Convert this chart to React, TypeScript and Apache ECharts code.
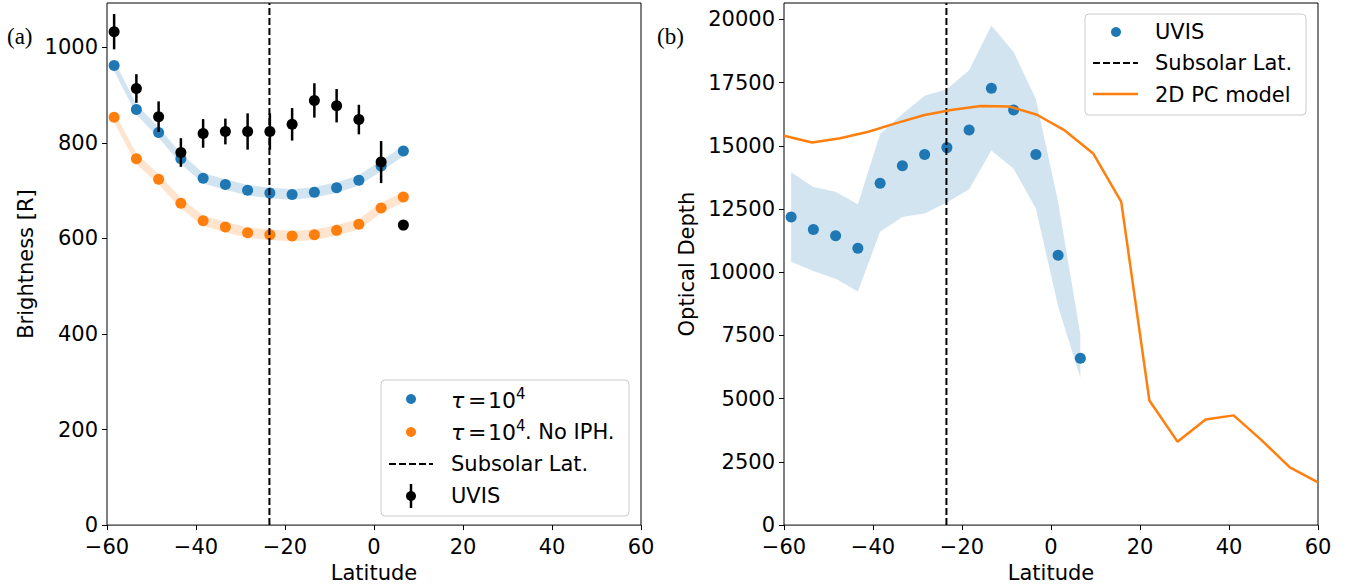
import React, { useEffect, useRef } from "react";
import * as echarts from "echarts";

// latitudes of the UVIS bins (deg)
const latitude = [-58.4, -53.4, -48.4, -43.4, -38.4, -33.4, -28.4, -23.4, -18.4, -13.4, -8.4, -3.4, 1.6, 6.6];

// panel (a): brightness [R]
const tauModel = [962, 870, 822, 767, 726, 713, 701, 695, 692, 697, 706, 722, 752, 783];
const tauNoIph = [854, 767, 724, 674, 637, 624, 612, 608, 605, 608, 617, 630, 664, 687];
const modelSpread = [11, 11, 11, 11, 11, 11, 11, 11, 11, 11, 11, 11, 11, 11];
const uvisBrightness = [1033, 914, 855, 780, 820, 824, 824, 824, 839, 889, 878, 849, 760, 628];
const uvisError = [37, 30, 32, 30, 30, 27, 38, 38, 34, 36, 35, 31, 44, 10];

// panel (b): optical depth
const uvisDepth = [12190, 11690, 11440, 10950, 13520, 14210, 14660, 14930, 15630, 17280, 16420, 14660, 10670, 6600];
const uvisDepthLow = [10420, 10050, 9740, 9240, 11600, 12190, 12320, 12760, 13280, 14820, 14090, 12520, 8650, 5830];
const uvisDepthHigh = [13960, 13370, 13180, 12690, 15470, 16260, 16980, 17240, 17990, 19760, 18710, 16850, 12780, 7530];

const modelLat = [-60, -53.68, -47.37, -41.05, -34.74, -28.42, -22.11, -15.79, -9.47, -3.16, 3.16, 9.47, 15.79, 22.11, 28.42, 34.74, 41.05, 47.37, 53.68, 60];
const modelDepth = [15400, 15130, 15300, 15560, 15900, 16220, 16430, 16580, 16560, 16230, 15600, 14700, 12780, 4930, 3300, 4180, 4340, 3350, 2280, 1690];

const subsolarLat = -23.5;

const brightTicks = [0, 200, 400, 600, 800, 1000];
const depthTicks = [0, 2500, 5000, 7500, 10000, 12500, 15000, 17500, 20000];

const BLUE = "#1f77b4";
const ORANGE = "#ff7f0e";
const FONT = '"DejaVu Sans", sans-serif';
const SERIF = '"Liberation Serif", "DejaVu Serif", serif';

const fmt = (v: number) => (v < 0 ? "\u2212" + Math.abs(v) : String(v));

// filled band between low and high, drawn once as a polygon
const band = (lo: number[], hi: number[], fill: string, xAxisIndex: number, yAxisIndex: number) => ({
	type: "custom",
	xAxisIndex,
	yAxisIndex,
	silent: true,
	z: 1,
	data: latitude.map((x, i) => [x, lo[i], hi[i]]),
	encode: { x: 0, y: [1, 2] },
	renderItem: (params: any, api: any) => {
		if (params.dataIndex !== 0) return null;
		const pts: number[][] = [];
		for (let i = 0; i < latitude.length; i++) pts.push(api.coord([latitude[i], hi[i]]));
		for (let i = latitude.length - 1; i >= 0; i--) pts.push(api.coord([latitude[i], lo[i]]));
		return { type: "polygon", shape: { points: pts }, style: { fill } };
	},
});

const axisCommon = {
	axisLine: { show: false, onZero: false },
	splitLine: { show: false },
	axisTick: { show: true, length: 5, lineStyle: { color: "#000", width: 1 } },
	axisLabel: { color: "#000", fontSize: 21, fontFamily: FONT, formatter: fmt },
	nameTextStyle: { color: "#000", fontSize: 21, fontFamily: FONT },
	nameLocation: "middle",
};

const xLabel = { ...axisCommon.axisLabel, lineHeight: 19, margin: 12 };

const legendText = (x: number, y: number, text: string, extra: any = {}) => ({
	type: "text",
	x,
	y,
	z: 101,
	style: { text, fill: "#000", font: `21px ${FONT}`, verticalAlign: "middle", align: "left", ...extra },
});

// "τ = 10^4" written in pieces, as matplotlib's mathtext does
const tauLabel = (y: number) => [
	legendText(451, y, "\u03c4", { font: `italic 22px ${FONT}` }),
	legendText(468, y, "=", { font: `22px ${FONT}` }),
	legendText(488, y, "10", { font: `22px ${FONT}` }),
	legendText(516, y - 6, "4", { font: `15px ${FONT}` }),
];

const App: React.FC = () => {
	const chartRef = useRef<HTMLDivElement>(null);

	useEffect(() => {
		if (!chartRef.current) return;
		const chart = echarts.init(chartRef.current, null, { renderer: "svg" });

		const option: any = {
			animation: false,
			backgroundColor: "#fff",
			grid: [
				{ left: 107, top: 3, width: 534, height: 524, show: true, borderColor: "#000", borderWidth: 1, backgroundColor: "transparent" },
				{ left: 784, top: 3, width: 534, height: 524, show: true, borderColor: "#000", borderWidth: 1, backgroundColor: "transparent" },
			],
			xAxis: [
				{ ...axisCommon, type: "value", gridIndex: 0, min: -60, max: 60, interval: 20, name: "Latitude", nameGap: 34, axisLabel: xLabel },
				{ ...axisCommon, type: "value", gridIndex: 1, min: -60, max: 60, interval: 20, name: "Latitude", nameGap: 34, axisLabel: xLabel },
			],
			yAxis: [
				{
					...axisCommon,
					type: "value",
					gridIndex: 0,
					min: 0,
					max: 1093,
					name: "Brightness [R]",
					nameGap: 71,
					axisTick: { ...axisCommon.axisTick, customValues: brightTicks },
					axisLabel: { ...axisCommon.axisLabel, customValues: brightTicks, margin: 9 },
				},
				{
					...axisCommon,
					type: "value",
					gridIndex: 1,
					min: 0,
					max: 20650,
					name: "Optical Depth",
					nameGap: 87,
					axisTick: { ...axisCommon.axisTick, customValues: depthTicks },
					axisLabel: { ...axisCommon.axisLabel, customValues: depthTicks, margin: 9 },
				},
			],
			series: [
				// panel (a)
				band(tauModel.map((v, i) => v - modelSpread[i]), tauModel.map((v, i) => v + modelSpread[i]), "rgba(31,119,180,0.2)", 0, 0),
				band(tauNoIph.map((v, i) => v - modelSpread[i]), tauNoIph.map((v, i) => v + modelSpread[i]), "rgba(255,127,14,0.2)", 0, 0),
				{
					type: "scatter",
					xAxisIndex: 0,
					yAxisIndex: 0,
					symbolSize: 11,
					itemStyle: { color: BLUE, opacity: 1 },
					data: latitude.map((x, i) => [x, tauModel[i]]),
					z: 3,
				},
				{
					type: "scatter",
					xAxisIndex: 0,
					yAxisIndex: 0,
					symbolSize: 11,
					itemStyle: { color: ORANGE, opacity: 1 },
					data: latitude.map((x, i) => [x, tauNoIph[i]]),
					z: 3,
				},
				{
					type: "line",
					xAxisIndex: 0,
					yAxisIndex: 0,
					symbol: "none",
					lineStyle: { color: "#000", width: 2, type: [7, 3] },
					data: [
						[subsolarLat, 0],
						[subsolarLat, 1093],
					],
					z: 4,
				},
				{
					type: "custom",
					xAxisIndex: 0,
					yAxisIndex: 0,
					z: 5,
					data: latitude.map((x, i) => [x, uvisBrightness[i], uvisError[i]]),
					encode: { x: 0, y: 1 },
					renderItem: (params: any, api: any) => {
						const x = api.value(0);
						const v = api.value(1);
						const e = api.value(2);
						const p1 = api.coord([x, v + e]);
						const p2 = api.coord([x, v - e]);
						return {
							type: "line",
							shape: { x1: p1[0], y1: p1[1], x2: p2[0], y2: p2[1] },
							style: { stroke: "#000", lineWidth: 2.5 },
						};
					},
				},
				{
					type: "scatter",
					xAxisIndex: 0,
					yAxisIndex: 0,
					symbolSize: 11,
					itemStyle: { color: "#000", opacity: 1 },
					data: latitude.map((x, i) => [x, uvisBrightness[i]]),
					z: 6,
				},
				// panel (b)
				band(uvisDepthLow, uvisDepthHigh, "rgba(31,119,180,0.2)", 1, 1),
				{
					type: "scatter",
					xAxisIndex: 1,
					yAxisIndex: 1,
					symbolSize: 11,
					itemStyle: { color: BLUE, opacity: 1 },
					data: latitude.map((x, i) => [x, uvisDepth[i]]),
					z: 3,
				},
				{
					type: "line",
					xAxisIndex: 1,
					yAxisIndex: 1,
					symbol: "none",
					lineStyle: { color: "#000", width: 2, type: [7, 3] },
					data: [
						[subsolarLat, 0],
						[subsolarLat, 20650],
					],
					z: 4,
				},
				{
					type: "line",
					xAxisIndex: 1,
					yAxisIndex: 1,
					symbol: "none",
					lineStyle: { color: ORANGE, width: 2.5 },
					data: modelLat.map((x, i) => [x, modelDepth[i]]),
					z: 5,
				},
			],
			graphic: [
				{ type: "text", x: 7, y: 36, style: { text: "(a)", fill: "#000", font: `23px ${SERIF}`, verticalAlign: "middle" } },
				{ type: "text", x: 657, y: 36, style: { text: "(b)", fill: "#000", font: `23px ${SERIF}`, verticalAlign: "middle" } },
				// legend (a)
				{
					type: "rect",
					z: 100,
					shape: { x: 381, y: 380, width: 248, height: 136, r: 4 },
					style: { fill: "rgba(255,255,255,0.8)", stroke: "#cccccc", lineWidth: 1 },
				},
				{ type: "circle", z: 101, shape: { cx: 411, cy: 399, r: 5 }, style: { fill: BLUE } },
				{ type: "circle", z: 101, shape: { cx: 411, cy: 432, r: 5 }, style: { fill: ORANGE } },
				{ type: "line", z: 101, shape: { x1: 389, y1: 464, x2: 433, y2: 464 }, style: { stroke: "#000", lineWidth: 2, lineDash: [7, 3] } },
				{ type: "line", z: 101, shape: { x1: 411, y1: 484, x2: 411, y2: 508 }, style: { stroke: "#000", lineWidth: 2.5 } },
				{ type: "circle", z: 102, shape: { cx: 411, cy: 496, r: 5 }, style: { fill: "#000" } },
				...tauLabel(400),
				...tauLabel(432),
				legendText(525, 432, ". No IPH."),
				legendText(451, 464, "Subsolar Lat."),
				legendText(451, 496, "UVIS"),
				// legend (b)
				{
					type: "rect",
					z: 100,
					shape: { x: 1085, y: 14, width: 221, height: 101, r: 4 },
					style: { fill: "rgba(255,255,255,0.8)", stroke: "#cccccc", lineWidth: 1 },
				},
				{ type: "circle", z: 101, shape: { cx: 1116, cy: 32, r: 5 }, style: { fill: BLUE } },
				{ type: "line", z: 101, shape: { x1: 1093, y1: 63, x2: 1138, y2: 63 }, style: { stroke: "#000", lineWidth: 2, lineDash: [7, 3] } },
				{ type: "line", z: 101, shape: { x1: 1093, y1: 94, x2: 1138, y2: 94 }, style: { stroke: ORANGE, lineWidth: 2.5 } },
				legendText(1155, 32, "UVIS"),
				legendText(1155, 63, "Subsolar Lat."),
				legendText(1155, 95, "2D PC model"),
			],
		};

		chart.setOption(option);

		return () => {
			chart.dispose();
		};
	}, []);

	return (
		<div
			ref={chartRef}
			style={{ position: "absolute", left: 0, top: 0, width: 1353, height: 588, background: "#fff" }}
		/>
	);
};

export default App;
